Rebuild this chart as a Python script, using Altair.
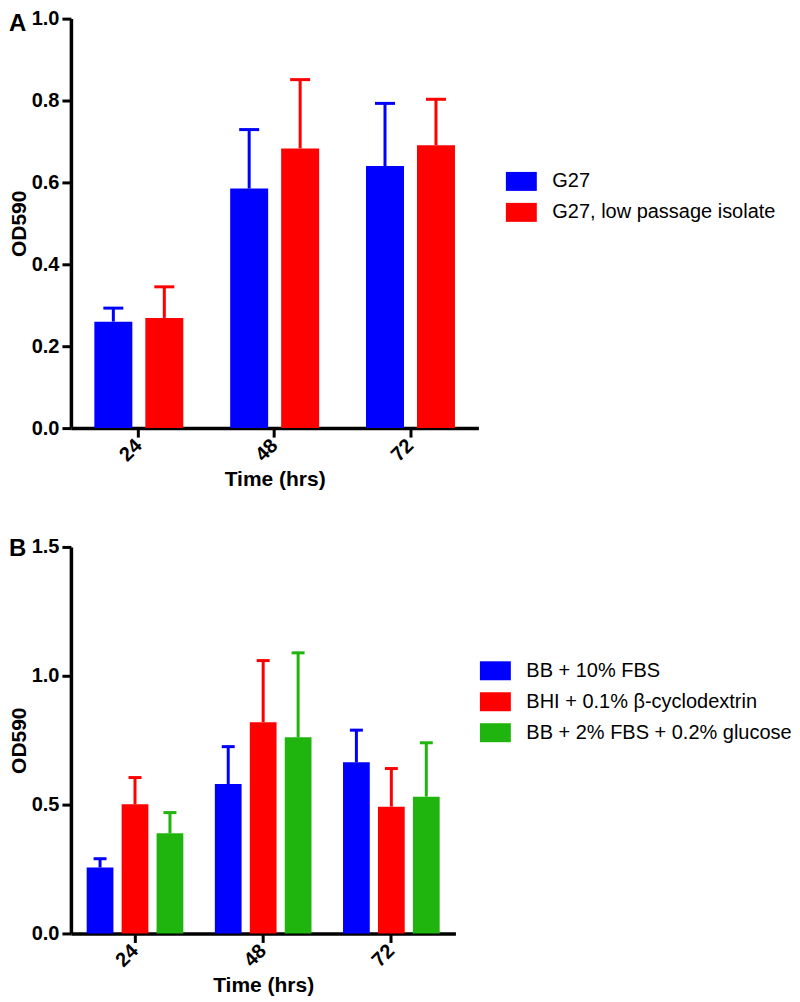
import altair as alt
import pandas as pd

FONT = "Liberation Sans"

times = ["24", "48", "72"]

# Panel A
a_series = ["G27", "G27, low passage isolate"]
a_colors = ["#0000FF", "#FF0000"]
a_g27_mean = [0.260, 0.585, 0.640]
a_g27_sd = [0.033, 0.144, 0.153]
a_low_mean = [0.269, 0.683, 0.691]
a_low_sd = [0.076, 0.168, 0.112]

# Panel B
b_series = ["BB + 10% FBS", "BHI + 0.1% \u03b2-cyclodextrin", "BB + 2% FBS + 0.2% glucose"]
b_colors = ["#0000FF", "#FF0000", "#20B40E"]
b_fbs_mean = [0.256, 0.580, 0.664]
b_fbs_sd = [0.034, 0.145, 0.125]
b_bhi_mean = [0.501, 0.820, 0.492]
b_bhi_sd = [0.104, 0.239, 0.148]
b_glu_mean = [0.389, 0.761, 0.531]
b_glu_sd = [0.080, 0.328, 0.209]


def make_df(series, means, sds):
    rows = []
    for s, m, sd in zip(series, means, sds):
        for t, mv, sv in zip(times, m, sd):
            rows.append({"time": t, "series": s, "mean": mv, "upper": mv + sv})
    return pd.DataFrame(rows)


df_a = make_df(a_series, [a_g27_mean, a_low_mean], [a_g27_sd, a_low_sd])
df_b = make_df(b_series, [b_fbs_mean, b_bhi_mean, b_glu_mean],
               [b_fbs_sd, b_bhi_sd, b_glu_sd])


def panel(df, series, colors, letter, ymax, yticks, width, height,
          pad_x, pad_off, cap, legend_x, legend_y, letter_x, letter_y):
    x = alt.X("time:N", sort=times, title="Time (hrs)",
              scale=alt.Scale(type="band", paddingInner=pad_x,
                              paddingOuter=pad_x / 2),
              axis=alt.Axis(labelAngle=-45, labelAlign="right",
                            labelBaseline="middle", labelPadding=5,
                            titlePadding=4))
    xo = alt.XOffset("series:N", sort=series,
                     scale=alt.Scale(type="band", domain=series,
                                     paddingInner=pad_off, paddingOuter=0))
    y = alt.Y("mean:Q", title="OD590",
              scale=alt.Scale(domain=[0, ymax], nice=False),
              axis=alt.Axis(values=yticks, format=".1f", titlePadding=2))
    color = alt.Color("series:N", sort=series,
                      scale=alt.Scale(domain=series, range=colors),
                      legend=alt.Legend(title=None, orient="none",
                                        legendX=legend_x, legendY=legend_y,
                                        labelFont=FONT, labelFontSize=20,
                                        labelColor="black",
                                        symbolType="M-1.63,-1H1.63V1H-1.63Z",
                                        symbolSize=361, symbolStrokeWidth=0,
                                        symbolOpacity=1,
                                        rowPadding=11, labelOffset=21,
                                        padding=0, labelLimit=500))
    base = alt.Chart(df)
    bars = base.mark_bar(opacity=1).encode(x=x, xOffset=xo, y=y, color=color)
    rules = base.mark_rule(strokeWidth=3).encode(
        x=x, xOffset=xo, y="mean:Q", y2="upper:Q", color=color)
    caps = base.mark_tick(orient="horizontal", size=cap, thickness=3,
                          opacity=1).encode(
        x=x, xOffset=xo, y="upper:Q", color=color)
    lab = alt.Chart(alt.Data(values=[{"t": letter}])).mark_text(
        font=FONT, fontSize=24, fontWeight="bold", align="left",
        baseline="alphabetic", color="black").encode(
        x=alt.value(letter_x), y=alt.value(letter_y), text="t:N")
    return alt.layer(rules, caps, bars, lab).properties(width=width, height=height)


chart_a = panel(df_a, a_series, a_colors, "A", 1.0,
                [0.0, 0.2, 0.4, 0.6, 0.8, 1.0], 408, 410,
                0.345, 0.255, 20, 441, 153, -62, 12)
chart_b = panel(df_b, b_series, b_colors, "B", 1.5,
                [0.0, 0.5, 1.0, 1.5], 385, 387,
                0.246, 0.235, 13, 415, 114, -62, 9)

chart = alt.vconcat(chart_a, chart_b, spacing=47).resolve_scale(
    color="independent", x="independent", y="independent",
    xOffset="independent"
).properties(padding=0).configure_view(stroke=None).configure_axis(
    grid=False, domainColor="black", domainWidth=3.5, tickColor="black",
    tickWidth=3, tickSize=9, labelColor="black", labelFont=FONT,
    labelFontSize=20, labelFontWeight="bold", titleFont=FONT,
    titleFontSize=21, titleFontWeight="bold", titleColor="black",
    labelPadding=3
)

chart.save("out.html", embed_options={"renderer": "svg", "actions": False})
